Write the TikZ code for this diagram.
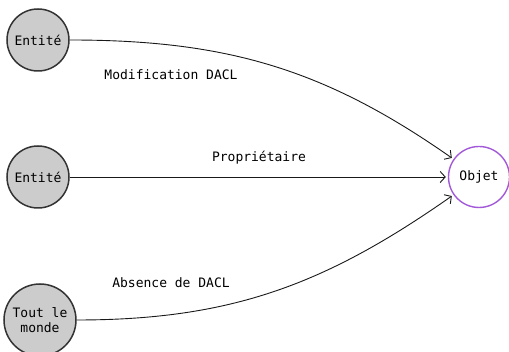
\documentclass[tikz,border=0pt]{standalone}
\usepackage{fontspec}
\setmonofont{DejaVu Sans Mono}
\usetikzlibrary{arrows.meta}
\definecolor{lilas}{HTML}{A258D8}
\begin{document}
\begin{tikzpicture}[x=1pt,y=1pt,
    font=\ttfamily\fontsize{13}{15.5}\selectfont,
    acteur/.style={circle,draw=black!80,line width=1.5pt,fill=black!20,
      minimum size=62pt,inner sep=1pt,align=center},
    cible/.style={circle,draw=lilas,line width=1.4pt,fill=white,
      minimum size=61pt,inner sep=1pt},
    lien/.style={-{Straight Barb[length=5pt,width=11pt]},black!90,line width=0.9pt,
      shorten >=2pt},
    etiq/.style={inner sep=1pt}]
  \useasboundingbox (0,0) rectangle (509,352);
  \draw
    (38,312) node[acteur] (e1){Entité}
    (38,175) node[acteur] (e2){Entité}
    (40,32) node[acteur,minimum size=72pt] (tous){Tout le\\monde}
    (479,175) node[cible] (obj){Objet};
  \node[etiq] (l1) at (171,277) {Modification DACL};
  \node[etiq] (l2) at (259,194) {Propriétaire};
  \node[etiq] (l3) at (171,69) {Absence de DACL};
  \begin{scope}[lien]
    \draw (e1) to[out=0,in=145] (obj);
    \draw (e2) to (obj);
    \draw (tous) to[out=0,in=215] (obj);
  \end{scope}
\end{tikzpicture}
\end{document}
